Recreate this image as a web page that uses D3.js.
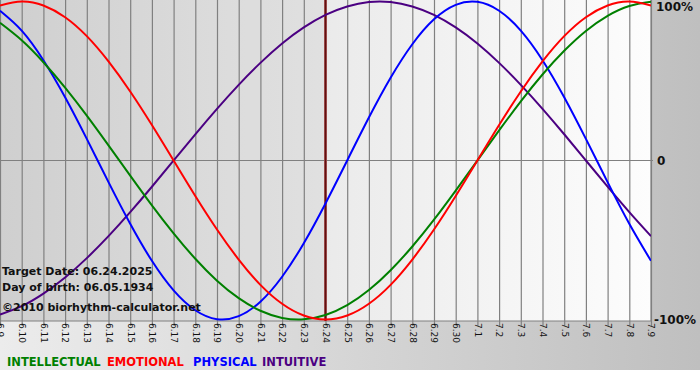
<!DOCTYPE html>
<html><head><meta charset="utf-8">
<script src="https://cdn.jsdelivr.net/npm/d3@7"></script>
<style>html,body{margin:0;padding:0;background:#fff;}svg{display:block;}</style>
</head><body>
<svg id="c" width="700" height="380"></svg>
<script>
const dates = ["6.9","6.10","6.11","6.12","6.13","6.14","6.15","6.16","6.17","6.18","6.19","6.20","6.21","6.22","6.23","6.24","6.25","6.26","6.27","6.28","6.29","6.30","7.1","7.2","7.3","7.4","7.5","7.6","7.7","7.8","7.9"];
const intellectual = [0.866,0.756,0.618,0.458,0.282,0.095,-0.095,-0.282,-0.458,-0.618,-0.756,-0.866,-0.945,-0.990,-0.999,-0.972,-0.910,-0.815,-0.690,-0.541,-0.372,-0.189,0,0.189,0.372,0.541,0.690,0.815,0.910,0.972,0.999];
const emotional = [0.975,1,0.975,0.901,0.782,0.623,0.434,0.223,0,-0.223,-0.434,-0.623,-0.782,-0.901,-0.975,-1,-0.975,-0.901,-0.782,-0.623,-0.434,-0.223,0,0.223,0.434,0.623,0.782,0.901,0.975,1,0.975];
const physical = [0.942,0.817,0.631,0.398,0.136,-0.136,-0.398,-0.631,-0.817,-0.942,-0.998,-0.979,-0.888,-0.731,-0.520,-0.270,0,0.270,0.520,0.731,0.888,0.979,0.998,0.942,0.817,0.631,0.398,0.136,-0.136,-0.398,-0.631];
const intuitive = [-0.969,-0.916,-0.837,-0.736,-0.614,-0.476,-0.325,-0.165,0,0.165,0.325,0.476,0.614,0.736,0.837,0.916,0.969,0.997,0.997,0.969,0.916,0.837,0.736,0.614,0.476,0.325,0.165,0,-0.165,-0.325,-0.476];
const targetDate = "6.24";
const yTicks = [1, 0, -1];
const yTickLabels = ["100%", "0", "-100%"];
const seriesNames = ["INTELLECTUAL","EMOTIONAL","PHYSICAL","INTUITIVE"];
const infoLines = ["Target Date: 06.24.2025","Day of birth: 06.05.1934","\u00a92010 biorhythm-calculator.net"];

const colors = {INTELLECTUAL:"#008000", EMOTIONAL:"#ff0000", PHYSICAL:"#0000ff", INTUITIVE:"#4b0082"};
const seriesData = {INTELLECTUAL:intellectual, EMOTIONAL:emotional, PHYSICAL:physical, INTUITIVE:intuitive};

const svg = d3.select("#c");
const W = 700, H = 380;
const pl = 0, pr = 651, pt = 0, pb = 321;

const defs = svg.append("defs");
const bgGrad = defs.append("linearGradient").attr("id","bg").attr("x1","0").attr("x2","1").attr("y1","0").attr("y2","0");
bgGrad.append("stop").attr("offset","0").attr("stop-color","#ececec");
bgGrad.append("stop").attr("offset","1").attr("stop-color","#bfbfbf");
const plotGrad = defs.append("linearGradient").attr("id","pg").attr("gradientUnits","userSpaceOnUse")
  .attr("x1",pl).attr("x2",pr).attr("y1",0).attr("y2",0);
plotGrad.append("stop").attr("offset","0").attr("stop-color","#d8d8d8");
plotGrad.append("stop").attr("offset","1").attr("stop-color","#fdfdfd");
defs.append("clipPath").attr("id","clip").append("rect").attr("x",pl).attr("y",pt).attr("width",pr-pl).attr("height",pb-pt);

// outer background
svg.append("rect").attr("x",0).attr("y",0).attr("width",W).attr("height",370).attr("fill","url(#bg)");
svg.append("rect").attr("x",0).attr("y",370).attr("width",W).attr("height",10).attr("fill","#ffffff");

const x = d3.scalePoint().domain(dates).range([pl, pr]);
const y = d3.scaleLinear().domain([-1, 1]).range([319.5, 1.5]);

// plot background
svg.append("rect").attr("x",pl).attr("y",pt).attr("width",pr-pl).attr("height",pb-pt).attr("fill","url(#pg)");
svg.append("rect").attr("x",pl).attr("y",pt).attr("width",x(targetDate)-pl).attr("height",pb-pt).attr("fill","rgba(0,0,0,0.04)");

// vertical grid + x ticks
const xAxis = d3.axisBottom(x).tickSize(pb - pt + 5).tickPadding(3);
const gx = svg.append("g").attr("transform",`translate(0,${pt})`).call(xAxis);
gx.select(".domain").remove();
gx.selectAll(".tick line").attr("stroke","#808080").attr("stroke-width",1.2);
gx.selectAll(".tick text")
  .attr("transform", function(){ return "translate(0," + (pb - pt + 2) + ") rotate(90)"; })
  .attr("x", 0).attr("y", 0).attr("dy","0.35em").attr("dx","0")
  .attr("text-anchor","start")
  .attr("fill","#111").attr("font-family","Verdana, 'DejaVu Sans', sans-serif").attr("font-size","9px");

// horizontal lines
svg.append("line").attr("x1",pl).attr("x2",pr+2).attr("y1",y(0)).attr("y2",y(0)).attr("stroke","#808080").attr("stroke-width",1.2);
svg.append("line").attr("x1",pl).attr("x2",pr).attr("y1",pb).attr("y2",pb).attr("stroke","#808080").attr("stroke-width",1.2);
svg.append("line").attr("x1",pr).attr("x2",pr).attr("y1",pt).attr("y2",pb).attr("stroke","#808080").attr("stroke-width",1.2);

// y labels
svg.selectAll("text.ylab").data(yTicks).enter().append("text").attr("class","ylab")
  .attr("x", (d,i)=> i===1 ? 657 : (i===0 ? 656 : 654))
  .attr("y", d => Math.min(Math.max(y(d), 7), 321))
  .attr("dy","0.35em")
  .attr("font-family","Verdana, 'DejaVu Sans', sans-serif").attr("font-weight","bold").attr("font-size","12px").attr("fill","#111")
  .text((d,i)=>yTickLabels[i]);

// target line
svg.append("line").attr("x1",x(targetDate)).attr("x2",x(targetDate)).attr("y1",pt).attr("y2",pb)
  .attr("stroke","#b06060").attr("stroke-width",3);
svg.append("line").attr("x1",x(targetDate)).attr("x2",x(targetDate)).attr("y1",pt).attr("y2",pb)
  .attr("stroke","#601010").attr("stroke-width",1.6);

// curves
const line = d3.line().x((d,i)=>x(dates[i])).y(d=>y(d)).curve(d3.curveNatural);
const gc = svg.append("g").attr("clip-path","url(#clip)");
["INTUITIVE","PHYSICAL","INTELLECTUAL","EMOTIONAL"].forEach(n=>{
  gc.append("path").attr("d", line(seriesData[n])).attr("fill","none").attr("stroke",colors[n]).attr("stroke-width",2);
});

// info text
svg.selectAll("text.info").data(infoLines).enter().append("text").attr("class","info")
  .attr("x",2).attr("y",(d,i)=>[275,291,311][i])
  .attr("font-family","Verdana, 'DejaVu Sans', sans-serif").attr("font-weight","bold").attr("font-size","11px").attr("fill","#111")
  .text(d=>d);

// legend
const legX = [7, 107, 193, 262];
svg.selectAll("text.leg").data(seriesNames).enter().append("text").attr("class","leg")
  .attr("x",(d,i)=>legX[i]).attr("y",366)
  .attr("font-family","Verdana, 'DejaVu Sans', sans-serif").attr("font-weight","bold").attr("font-size","11.5px")
  .attr("fill",d=>colors[d]).text(d=>d);
</script>
</body></html>
